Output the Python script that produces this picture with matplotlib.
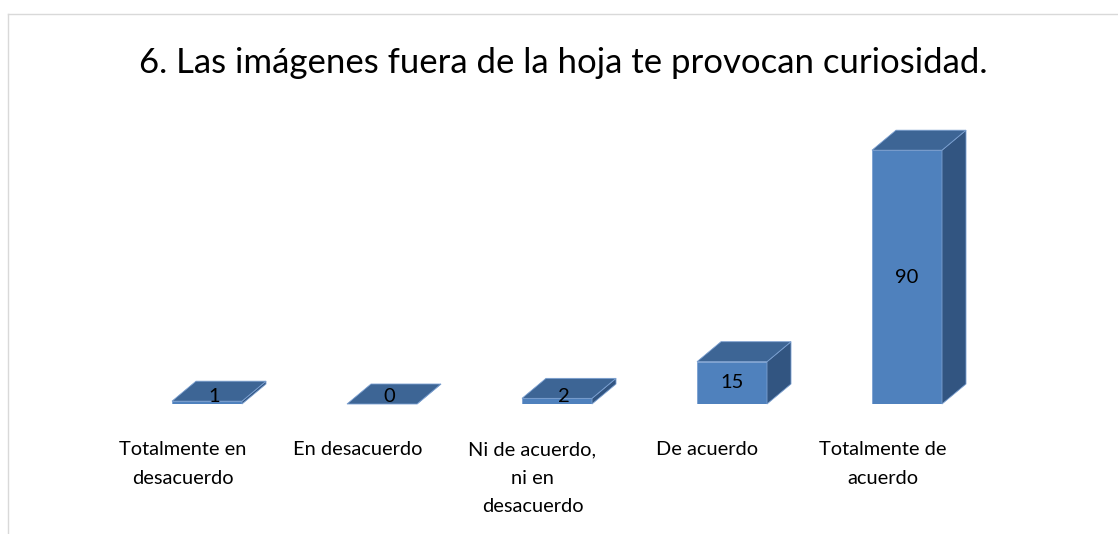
import matplotlib.pyplot as plt
from matplotlib.patches import Polygon
from matplotlib.lines import Line2D

categorias = ['Totalmente en\ndesacuerdo', 'En desacuerdo', 'Ni de acuerdo,\nni en\ndesacuerdo',
              'De acuerdo', 'Totalmente de\nacuerdo']
valores = [1, 0, 2, 15, 90]
titulo = '6. Las imágenes fuera de la hoja te provocan curiosidad.'

c_frente = '#4f81bd'
c_arriba = '#3d6595'
c_lado = '#325581'
c_borde = '#7a9fd0'

fig = plt.figure(figsize=(11.18, 5.34), dpi=100)
W, H = 1118, 534
ax = fig.add_axes([119.5 / W, 130 / H, 875 / W, 282 / H])
ax.set_xlim(-0.5, 4.5)
ax.set_ylim(0, 100)
ax.axis('off')

ancho = 70 / 175
dx = 24 / 175
dy = 20 / 2.82

for i, v in enumerate(valores):
    x0 = i - ancho / 2
    x1 = i + ancho / 2
    ax.bar(i, v, width=ancho, color=c_frente, edgecolor=c_borde, linewidth=0.6, zorder=2)
    arriba = [(x0, v), (x0 + dx, v + dy), (x1 + dx, v + dy), (x1, v)]
    lado = [(x1, 0), (x1, v), (x1 + dx, v + dy), (x1 + dx, dy)]
    ax.add_patch(Polygon(lado, closed=True, facecolor=c_lado, edgecolor=c_borde, linewidth=0.6,
                         zorder=2, clip_on=False))
    ax.add_patch(Polygon(arriba, closed=True, facecolor=c_arriba, edgecolor=c_borde, linewidth=0.6,
                         zorder=2, clip_on=False))
    if v >= 5:
        ax.text(i, v / 2, str(v), ha='center', va='center', fontsize=14.5, family='Lato', zorder=3)
    else:
        ax.text(i + 0.04, 2.8, str(v), ha='center', va='center', fontsize=14.5, family='Lato', zorder=3)
    ax.text(i - 0.14, -13.2, categorias[i], ha='center', va='top', fontsize=14.4, family='Lato',
            linespacing=1.82, clip_on=False)

fig.text(0.5035, 1 - 63 / H, titulo, ha='center', va='center', fontsize=25, family='Lato')

# marco del gráfico
fig.add_artist(Line2D([8 / W, 8 / W], [0, 1 - 14 / H], color='#d9d9d9', linewidth=1))
fig.add_artist(Line2D([8 / W, 1], [1 - 14 / H, 1 - 14 / H], color='#d9d9d9', linewidth=1))

plt.savefig('out.png', dpi=100)
